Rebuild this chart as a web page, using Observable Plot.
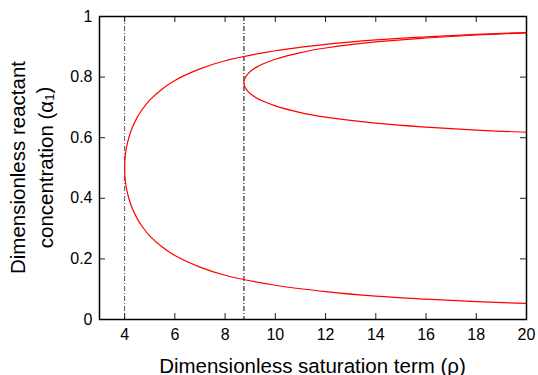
<!DOCTYPE html>
<html>
<head>
<meta charset="utf-8">
<script src="https://cdn.jsdelivr.net/npm/d3@7"></script>
<script src="https://cdn.jsdelivr.net/npm/@observablehq/plot@0.6"></script>
<style>
  html, body { margin: 0; padding: 0; background: #fff; }
  svg { display: block; }
</style>
</head>
<body>
<div id="chart"></div>
<script>
// Branch 1 (turning point at rho = 4)
const rho1 = [20, 18, 16, 14, 12, 10, 8, 7, 6, 5.5, 5, 4.7, 4.5, 4.3, 4.2, 4.1, 4.05, 4.01, 4,
              4.01, 4.05, 4.1, 4.2, 4.3, 4.5, 4.7, 5, 5.5, 6, 7, 8, 10, 12, 14, 16, 18, 20];
const alpha1 = [0.947, 0.941, 0.933, 0.923, 0.908, 0.887, 0.854, 0.827, 0.789, 0.761, 0.724, 0.693, 0.667, 0.632, 0.609, 0.578, 0.556, 0.525, 0.5,
                0.475, 0.444, 0.422, 0.391, 0.368, 0.333, 0.307, 0.276, 0.239, 0.211, 0.173, 0.146, 0.113, 0.092, 0.077, 0.067, 0.059, 0.053];
// Branch 2 (turning point at rho ~ 8.75)
const rho2 = [20, 18, 16, 14, 12, 11, 10, 9.5, 9.3, 9.1, 8.9, 8.8, 8.76, 8.75,
              8.76, 8.8, 8.9, 9.1, 9.3, 9.5, 10, 11, 12, 14, 16, 18, 20];
const alpha2 = [0.946, 0.939, 0.929, 0.916, 0.896, 0.881, 0.859, 0.843, 0.835, 0.825, 0.810, 0.798, 0.789, 0.782,
                0.775, 0.766, 0.754, 0.739, 0.729, 0.721, 0.705, 0.683, 0.668, 0.648, 0.635, 0.625, 0.618];
// Critical values (vertical dash-dot lines)
const critical = [4, 8.75];
const criticalColors = ["#555555", "#000000"];
// Tick values
const xTicks = [4, 6, 8, 10, 12, 14, 16, 18, 20];
const yTicks = [0, 0.2, 0.4, 0.6, 0.8, 1];
const yTickLabels = ["0", "0.2", "0.4", "0.6", "0.8", "1"];

const branch1 = rho1.map((r, i) => ({rho: r, alpha: alpha1[i]}));
const branch2 = rho2.map((r, i) => ({rho: r, alpha: alpha2[i]}));
const crit = critical.map((c, i) => ({rho: c, color: criticalColors[i]}));

const W = 538, H = 375, mL = 99, mR = 12, mT = 16, mB = 56;
const innerW = W - mL - mR, innerH = H - mT - mB;
const font = "'Liberation Sans', Arial, Helvetica, sans-serif";
const tick = 6;

const svg = Plot.plot({
  width: W, height: H,
  marginLeft: mL, marginRight: mR, marginTop: mT, marginBottom: mB,
  style: {fontFamily: font, fontSize: "16px", color: "#000", background: "#fff"},
  x: {domain: [3, 20]},
  y: {domain: [0, 1]},
  marks: [
    Plot.ruleX(crit, {x: "rho", stroke: "color", strokeWidth: 1, strokeDasharray: "5,2,1,2"}),
    Plot.line(branch1, {x: "rho", y: "alpha", stroke: "#ff0000", strokeWidth: 1.2, curve: "catmull-rom"}),
    Plot.line(branch2, {x: "rho", y: "alpha", stroke: "#ff0000", strokeWidth: 1.2, curve: "catmull-rom"}),
    // inward ticks on all four sides
    Plot.tickX(xTicks, {x: d => d, insetTop: innerH - tick, stroke: "#222", strokeWidth: 1}),
    Plot.tickX(xTicks, {x: d => d, insetBottom: innerH - tick, stroke: "#222", strokeWidth: 1}),
    Plot.tickY(yTicks, {y: d => d, insetRight: innerW - tick, stroke: "#222", strokeWidth: 1}),
    Plot.tickY(yTicks, {y: d => d, insetLeft: innerW - tick, stroke: "#222", strokeWidth: 1}),
    Plot.axisX({ticks: xTicks, tickSize: 0, tickPadding: 9, label: null, fontSize: 16}),
    Plot.axisY({ticks: yTicks, tickSize: 0, tickPadding: 7, label: null, fontSize: 16,
                tickFormat: d => yTickLabels[yTicks.indexOf(d)]}),
    Plot.frame({stroke: "#000", strokeWidth: 1.5})
  ]
});

const s = d3.select(svg);
s.append("text")
  .attr("x", mL + innerW / 2).attr("y", 365)
  .attr("text-anchor", "middle").attr("dominant-baseline", "central")
  .style("font-family", font).style("font-size", "20.5px").attr("fill", "#000")
  .text("Dimensionless saturation term (ρ)");

const yc = mT + innerH / 2;
s.append("text")
  .attr("transform", `translate(17,${yc}) rotate(-90)`)
  .attr("text-anchor", "middle").attr("dominant-baseline", "central")
  .style("font-family", font).style("font-size", "20.5px").attr("fill", "#000")
  .text("Dimensionless reactant");
const t2 = s.append("text")
  .attr("transform", `translate(45,${yc}) rotate(-90)`)
  .attr("text-anchor", "middle").attr("dominant-baseline", "central")
  .style("font-family", font).style("font-size", "20.5px").attr("fill", "#000");
t2.append("tspan").text("concentration (α");
t2.append("tspan").attr("dy", "0.3em").style("font-size", "13px").text("1");
t2.append("tspan").attr("dy", "-0.3em").text(")");

document.getElementById("chart").appendChild(svg);
</script>
</body>
</html>
